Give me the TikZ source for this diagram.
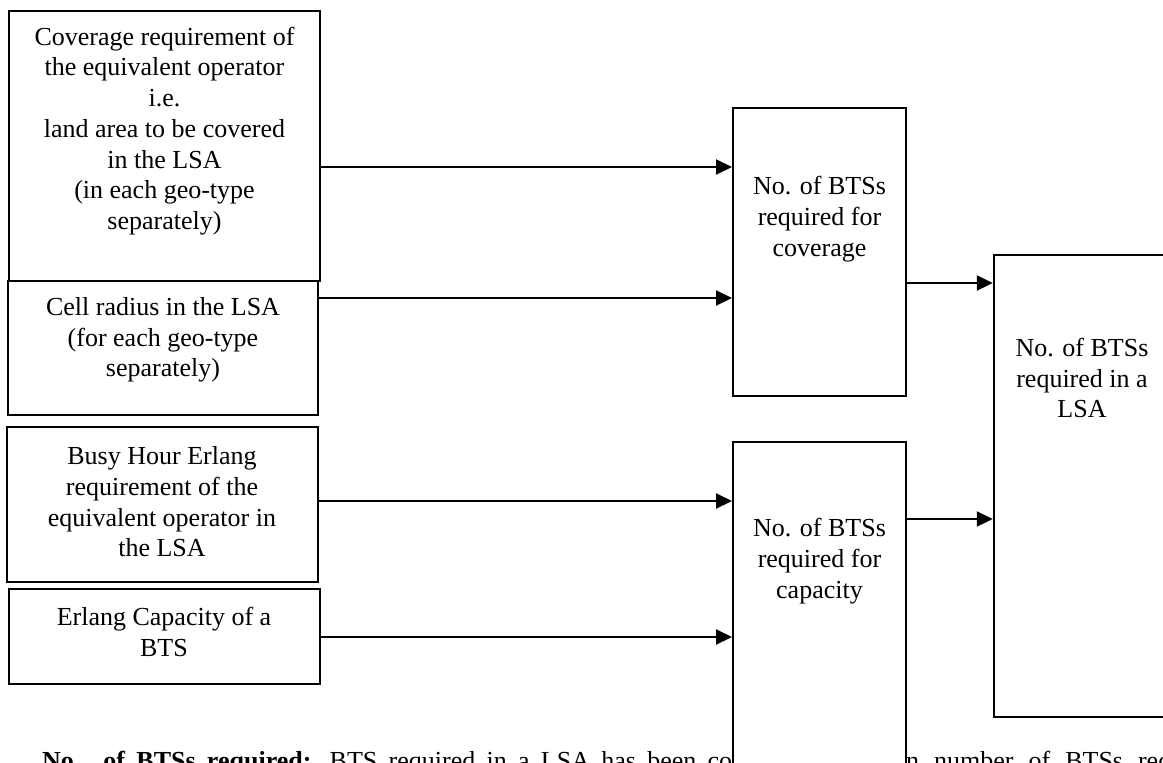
\documentclass[tikz,border=0pt]{standalone}
\usepackage{fontspec}
\setmainfont{Liberation Serif}
\usetikzlibrary{arrows.meta}
\begin{document}
\begin{tikzpicture}[x=1pt,y=-1pt,
  box/.style={draw, line width=2pt, fill=white, inner sep=0pt},
  lbl/.style={align=center, inner sep=0pt, font=\fontsize{26}{30.7}\selectfont},
  para/.style={inner sep=0pt, anchor=base west, font=\fontsize{26}{30.7}\selectfont},
  arr/.style={line width=2pt, -{Triangle[length=16pt,width=15pt]}}]
\useasboundingbox (0,0) rectangle (1163,763);
\clip (0,0) rectangle (1163,763);

% running text of the page, partly hidden behind the capacity box
\node[para] (paraL) at (42,769)
  {\makebox[690pt][s]{\textbf{No. of BTSs required:} BTS required in a LSA has been co}};
\node[para] (paraR) at (906,769)
  {\spaceskip=15pt n number of BTSs required};

% input boxes
\node[box, minimum width=311pt, minimum height=270pt] (boxA) at (164.5,146) {};
\node[box, minimum width=310pt, minimum height=134pt] (boxB) at (163,348) {};
\node[box, minimum width=311pt, minimum height=155pt] (boxC) at (162.5,504.5) {};
\node[box, minimum width=311pt, minimum height=95pt]  (boxD) at (164.5,636.5) {};

% intermediate and result boxes
\node[box, minimum width=173pt, minimum height=288pt] (boxE) at (819.5,252) {};
\node[box, minimum width=173pt, minimum height=358pt] (boxF) at (819.5,621) {};
\node[box, line width=2.4pt, minimum width=181pt, minimum height=462pt] (boxG) at (1084.5,486) {};

% box texts
\node[lbl] (txtA) at (164.5,131) {Coverage requirement of\\the equivalent operator\\i.e.\\land area to be covered\\in the LSA\\(in each geo-type\\separately)};
\node[lbl] (txtB) at (163,340) {Cell radius in the LSA\\(for each geo-type\\separately)};
\node[lbl] (txtC) at (162,502) {Busy Hour Erlang\\requirement of the\\equivalent operator in\\the LSA};
\node[lbl] (txtD) at (164,632) {Erlang Capacity of a\\BTS};
\node[lbl] (txtE) at (819.5,219) {No. of BTSs\\required for\\coverage};
\node[lbl] (txtF) at (819.5,561) {No. of BTSs\\required for\\capacity};
\node[lbl] (txtG) at (1082,378) {No. of BTSs\\required in a\\LSA};

% connector levels
\coordinate (yA) at (0,167);
\coordinate (yB) at (0,298);
\coordinate (yC) at (0,501);
\coordinate (yD) at (0,637);
\coordinate (yE) at (0,283);
\coordinate (yF) at (0,519);

\draw[arr] (boxA.east |- yA) -- (boxE.west |- yA);
\draw[arr] (boxB.east |- yB) -- (boxE.west |- yB);
\draw[arr] (boxC.east |- yC) -- (boxF.west |- yC);
\draw[arr] (boxD.east |- yD) -- (boxF.west |- yD);
\draw[arr] (boxE.east |- yE) -- (boxG.west |- yE);
\draw[arr] (boxF.east |- yF) -- (boxG.west |- yF);
\end{tikzpicture}
\end{document}
